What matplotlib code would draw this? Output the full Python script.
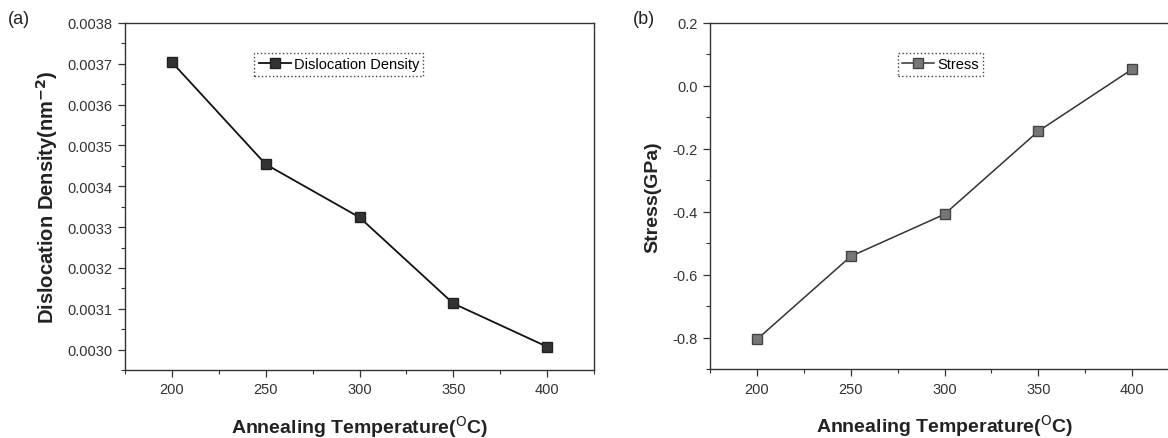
import numpy as np
import matplotlib.pyplot as plt
from matplotlib.ticker import MultipleLocator

plt.rcParams['font.family'] = ['Liberation Sans', 'DejaVu Sans']

temps = [200, 250, 300, 350, 400]
dislocation = [0.003704, 0.003454, 0.003324, 0.003113, 0.003007]
stress = [-0.806, -0.542, -0.408, -0.144, 0.053]

fig = plt.figure(figsize=(11.68, 4.39), dpi=100)
W, H = 1168, 439

# axes positions in pixels (left, top, right, bottom)
ax1 = fig.add_axes([125 / W, 1 - 371 / H, (594 - 125) / W, (371 - 24) / H])
ax2 = fig.add_axes([710 / W, 1 - 370 / H, (1179 - 710) / W, (370 - 24) / H])


def style(ax):
    for s in ax.spines.values():
        s.set_linewidth(1.0)
        s.set_color('#333333')
    ax.tick_params(which='both', direction='out', top=False, right=False,
                   labelsize=10.5, colors='#333333')
    ax.tick_params(which='major', length=5, width=0.9, pad=4)
    ax.tick_params(which='minor', length=3, width=0.8)
    ax.set_xlim(175, 425)
    ax.xaxis.set_major_locator(MultipleLocator(50))
    ax.xaxis.set_minor_locator(MultipleLocator(25))
    ax.set_xlabel('Annealing Temperature($^{\\mathrm{O}}$C)', fontsize=14,
                  fontweight='bold', color='#222222', labelpad=12)


ax1.plot(temps, dislocation, color='#111111', lw=1.3, marker='s', ms=7,
         mfc='#333333', mec='#222222', label='Dislocation Density')
style(ax1)
ax1.set_ylim(0.00295, 0.0038)
ax1.yaxis.set_major_locator(MultipleLocator(0.0001))
ax1.yaxis.set_minor_locator(MultipleLocator(0.00005))
ax1.yaxis.set_major_formatter(plt.FormatStrFormatter('%.4f'))
ax1.set_ylabel('Dislocation Density(nm$^{\\mathbf{-2}}$)', fontsize=14.5,
               fontweight='bold', color='#222222', labelpad=5)
leg1 = ax1.legend(loc='upper left', bbox_to_anchor=(0.26, 0.935), fontsize=10.5,
                  fancybox=False, handlelength=2.2, borderpad=0.3,
                  handletextpad=0.2, framealpha=1)
leg1.get_frame().set_linestyle(':')
leg1.get_frame().set_edgecolor('#444444')

ax2.plot(temps, stress, color='#333333', lw=1.1, marker='s', ms=6.5,
         mfc='#777777', mec='#444444', label='Stress')
style(ax2)
ax2.set_ylim(-0.9, 0.2)
ax2.yaxis.set_major_locator(MultipleLocator(0.2))
ax2.yaxis.set_minor_locator(MultipleLocator(0.1))
ax2.yaxis.set_major_formatter(plt.FormatStrFormatter('%.1f'))
ax2.set_ylabel('Stress(GPa)', fontsize=14, fontweight='bold',
               color='#222222', labelpad=8)
leg2 = ax2.legend(loc='upper left', bbox_to_anchor=(0.385, 0.935), fontsize=10.5,
                  fancybox=False, handlelength=2.2, borderpad=0.3,
                  handletextpad=0.2, framealpha=1)
leg2.get_frame().set_linestyle(':')
leg2.get_frame().set_edgecolor('#444444')

fig.text(8 / W, 1 - 19 / H, '(a)', fontsize=13, color='#222222', va='center')
fig.text(633 / W, 1 - 20 / H, '(b)', fontsize=13, color='#222222', va='center')

fig.savefig('out.png', dpi=100)
